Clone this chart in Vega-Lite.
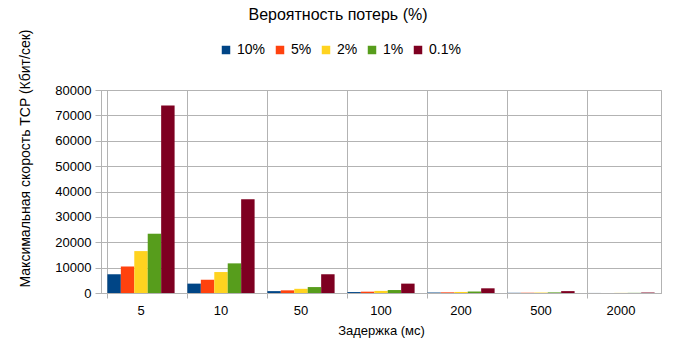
{
  "$schema": "https://vega.github.io/schema/vega-lite/v6.json",
  "width": 560,
  "height": 203,
  "autosize": {"type": "none"},
  "padding": {"left": 101, "top": 90, "right": 16, "bottom": 59},
  "background": "white",
  "title": {"text": "Вероятность потерь (%)", "anchor": "middle", "dx": -43, "offset": 4, "fontSize": 16, "font": "Liberation Sans", "fontWeight": "normal", "color": "black"},
  "data": {"values": [
    {"delay": "5", "loss": "10%", "rate": 7387},
    {"delay": "5", "loss": "5%", "rate": 10447},
    {"delay": "5", "loss": "2%", "rate": 16518},
    {"delay": "5", "loss": "1%", "rate": 23360},
    {"delay": "5", "loss": "0.1%", "rate": 73871},
    {"delay": "10", "loss": "10%", "rate": 3694},
    {"delay": "10", "loss": "5%", "rate": 5223},
    {"delay": "10", "loss": "2%", "rate": 8259},
    {"delay": "10", "loss": "1%", "rate": 11680},
    {"delay": "10", "loss": "0.1%", "rate": 36936},
    {"delay": "50", "loss": "10%", "rate": 739},
    {"delay": "50", "loss": "5%", "rate": 1045},
    {"delay": "50", "loss": "2%", "rate": 1652},
    {"delay": "50", "loss": "1%", "rate": 2336},
    {"delay": "50", "loss": "0.1%", "rate": 7387},
    {"delay": "100", "loss": "10%", "rate": 369},
    {"delay": "100", "loss": "5%", "rate": 522},
    {"delay": "100", "loss": "2%", "rate": 826},
    {"delay": "100", "loss": "1%", "rate": 1168},
    {"delay": "100", "loss": "0.1%", "rate": 3694},
    {"delay": "200", "loss": "10%", "rate": 185},
    {"delay": "200", "loss": "5%", "rate": 261},
    {"delay": "200", "loss": "2%", "rate": 413},
    {"delay": "200", "loss": "1%", "rate": 584},
    {"delay": "200", "loss": "0.1%", "rate": 1847},
    {"delay": "500", "loss": "10%", "rate": 74},
    {"delay": "500", "loss": "5%", "rate": 104},
    {"delay": "500", "loss": "2%", "rate": 165},
    {"delay": "500", "loss": "1%", "rate": 234},
    {"delay": "500", "loss": "0.1%", "rate": 739},
    {"delay": "2000", "loss": "10%", "rate": 18},
    {"delay": "2000", "loss": "5%", "rate": 26},
    {"delay": "2000", "loss": "2%", "rate": 41},
    {"delay": "2000", "loss": "1%", "rate": 58},
    {"delay": "2000", "loss": "0.1%", "rate": 185}
  ]},
  "mark": {"type": "bar"},
  "encoding": {
    "x": {
      "field": "delay", "type": "nominal",
      "sort": ["5", "10", "50", "100", "200", "500", "2000"],
      "scale": {"paddingInner": 0.16, "paddingOuter": 0.08},
      "axis": {"title": "Задержка (мс)", "labelAngle": 0, "bandPosition": 0, "grid": true, "gridColor": "#b3b3b3", "tickColor": "#b3b3b3", "domainColor": "#b3b3b3", "tickSize": 5, "labelFontSize": 13, "labelFont": "Liberation Sans", "labelColor": "black", "labelPadding": 6, "titleFontSize": 13, "titleFont": "Liberation Sans", "titleFontWeight": "normal", "titleColor": "black", "titlePadding": 7}
    },
    "xOffset": {"field": "loss", "type": "nominal", "sort": ["10%", "5%", "2%", "1%", "0.1%"], "scale": {"paddingInner": 0, "paddingOuter": 0}},
    "y": {
      "field": "rate", "type": "quantitative",
      "scale": {"domain": [0, 80000]},
      "axis": {"title": "Максимальная скорость  TCP (Кбит/сек)", "values": [0, 10000, 20000, 30000, 40000, 50000, 60000, 70000, 80000], "format": "d", "gridColor": "#b3b3b3", "tickColor": "#b3b3b3", "domainColor": "#b3b3b3", "tickSize": 6, "labelFontSize": 13, "labelFont": "Liberation Sans", "labelColor": "black", "labelPadding": 4, "titleFontSize": 14, "titleFont": "Liberation Sans", "titleFontWeight": "normal", "titleColor": "black", "titleX": -69, "titleY": 68}
    },
    "color": {
      "field": "loss", "type": "nominal",
      "sort": ["10%", "5%", "2%", "1%", "0.1%"],
      "scale": {"domain": ["10%", "5%", "2%", "1%", "0.1%"], "range": ["#004586", "#ff420e", "#ffd320", "#579d1c", "#7e0021"]},
      "legend": {"title": null, "orient": "none", "legendX": 118, "legendY": -47, "direction": "horizontal", "symbolType": "square", "symbolSize": 72, "symbolStrokeWidth": 0, "labelFontSize": 14, "labelFont": "Liberation Sans", "labelColor": "black", "columnPadding": 7, "labelOffset": 4}
    }
  },
  "config": {"view": {"stroke": "#b3b3b3"}}
}
